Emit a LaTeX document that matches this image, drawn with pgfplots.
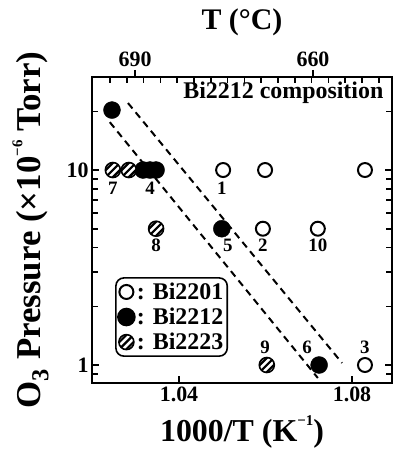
\documentclass[border=0pt]{standalone}
\usepackage{fontspec}
\setmainfont{Liberation Serif}
\usepackage{pgfplots}
\pgfplotsset{compat=1.18}
\usetikzlibrary{calc}
\newcommand{\bfs}[1]{\fontsize{#1}{#1}\selectfont\bfseries}
\newcommand{\sups}[1]{\raisebox{1.15ex}{\fontsize{15}{15}\selectfont\bfseries #1}}
\pgfdeclareplotmark{hatchcirc}{%
  \begin{pgfscope}%
    \pgfsetfillcolor{white}%
    \pgfpathcircle{\pgfpointorigin}{\pgfplotmarksize}%
    \pgfusepath{fill,clip}%
    \pgfsetlinewidth{2.2bp}%
    \pgfpathmoveto{\pgfpoint{-4.93bp}{-19.07bp}}\pgfpathlineto{\pgfpoint{19.07bp}{4.93bp}}%
    \pgfpathmoveto{\pgfpoint{-8.46bp}{-15.54bp}}\pgfpathlineto{\pgfpoint{15.54bp}{8.46bp}}%
    \pgfpathmoveto{\pgfpoint{-12bp}{-12bp}}\pgfpathlineto{\pgfpoint{12bp}{12bp}}%
    \pgfpathmoveto{\pgfpoint{-15.54bp}{-8.46bp}}\pgfpathlineto{\pgfpoint{8.46bp}{15.54bp}}%
    \pgfpathmoveto{\pgfpoint{-19.07bp}{-4.93bp}}\pgfpathlineto{\pgfpoint{4.93bp}{19.07bp}}%
    \pgfusepath{stroke}%
  \end{pgfscope}%
  \pgfpathcircle{\pgfpointorigin}{\pgfplotmarksize}%
  \pgfusepath{stroke}%
}
\begin{document}
\begin{tikzpicture}
\begin{axis}[name=ax,
  scale only axis, width=300bp, height=306bp,
  xmin=1.01988, xmax=1.08925,
  ymode=log, ymin=0.8086, ymax=30,
  axis line style={line width=2bp, draw=black},
  xtick={1.04,1.08}, xticklabels={1.04,1.08},
  xtick pos=bottom,
  ytick={1,10}, yticklabels={1,10},
  minor ytick={0.9,2,3,4,5,6,7,8,9,20},
  ytick pos=both, tick align=inside,
  major tick length=7bp, minor tick length=6bp,
  major tick style={line width=1.6bp, draw=black},
  minor tick style={line width=1.6bp, draw=black},
  tick label style={font=\bfs{22}},
  xlabel={1000/T (K\sups{−1})},
  ylabel={O\textsubscript{3} Pressure (×10\sups{−6} Torr)},
  xlabel style={font=\bfs{32}, yshift=-7bp},
  ylabel style={font=\bfs{35}, yshift=11bp},
  legend style={draw=black, line width=1.6bp, rounded corners=8bp,
    at={(0.077,0.346)}, anchor=north west, font=\bfs{24},
    inner xsep=2bp, inner ysep=3bp, row sep=3bp},
  legend cell align=left,
]
\addplot[black, line width=2bp, dash pattern=on 7bp off 5bp, forget plot]
  coordinates {(1.0282,22.06) (1.0777,1.024)};
\addplot[black, line width=2bp, dash pattern=on 7bp off 5bp, forget plot]
  coordinates {(1.0240,17.6) (1.0721,0.858)};
% Bi2201 (open)
\addplot[only marks, mark=*, mark size=7bp,
  mark options={draw=black, fill=white, line width=2bp}]
  coordinates {(1.0502,10) (1.0599,10) (1.0830,10) (1.0594,5) (1.0721,5) (1.0830,1)};
% Bi2212 (filled)
\addplot[only marks, mark=*, mark size=8.5bp,
  mark options={draw=black, fill=black}]
  coordinates {(1.0245,20.3) (1.0317,10) (1.0333,10) (1.0347,10) (1.0499,5) (1.0724,1)};
% Bi2223 (hatched)
\addplot[only marks, mark=hatchcirc, mark size=7.5bp,
  mark options={draw=black, line width=1.6bp}]
  coordinates {(1.0247,10) (1.0284,10) (1.0347,5) (1.0603,1)};
\legend{: Bi2201, : Bi2212, : Bi2223}
\node[font=\bfs{19}] at (axis cs:1.0247,8.09) {7};
\node[font=\bfs{19}] at (axis cs:1.0333,8.09) {4};
\node[font=\bfs{19}] at (axis cs:1.0499,8.09) {1};
\node[font=\bfs{19}] at (axis cs:1.0347,4.12) {8};
\node[font=\bfs{19}] at (axis cs:1.0513,4.12) {5};
\node[font=\bfs{19}] at (axis cs:1.0594,4.12) {2};
\node[font=\bfs{19}] at (axis cs:1.0721,4.12) {10};
\node[font=\bfs{19}] at (axis cs:1.0599,1.237) {9};
\node[font=\bfs{19}] at (axis cs:1.0696,1.237) {6};
\node[font=\bfs{19}] at (axis cs:1.0830,1.237) {3};
\node[font=\bfs{24}, anchor=west] at (axis cs:1.0402,24.8) {Bi2212 composition};
\end{axis}
\begin{axis}[
  scale only axis, width=300bp, height=306bp,
  xmin=1.01988, xmax=1.08925, ymin=0, ymax=1,
  axis x line*=top, axis y line=none, tick align=inside,
  axis line style={line width=2bp, draw=black},
  major tick style={line width=1.6bp, draw=black},
  xtick={1.02405,1.02793,1.03182,1.03570,1.03958,1.04347,1.04735,1.05124,1.05512,1.05901,1.06289,1.06677,1.07066,1.07454,1.07843,1.08231,1.08620},
  xticklabels={}, major tick length=6bp]
\addplot[draw=none] coordinates {(1.03,0.5)};
\end{axis}
\begin{axis}[
  scale only axis, width=300bp, height=306bp,
  xmin=1.01988, xmax=1.08925, ymin=0, ymax=1,
  axis x line*=top, axis y line=none, tick align=outside,
  axis line style={line width=2bp, draw=black},
  major tick style={line width=1.6bp, draw=black},
  xtick={1.02983,1.07098}, xticklabels={690,660}, major tick length=7bp,
  tick label style={font=\bfs{22}},
  xlabel={T (°C)}, xlabel style={font=\bfs{30}, yshift=9bp}]
\addplot[draw=none] coordinates {(1.03,0.5)};
\end{axis}
\pgfresetboundingbox
\useasboundingbox ($(ax.south west)+(-92bp,-76bp)$) rectangle ($(ax.south west)+(301bp,383bp)$);
\end{tikzpicture}
\end{document}
